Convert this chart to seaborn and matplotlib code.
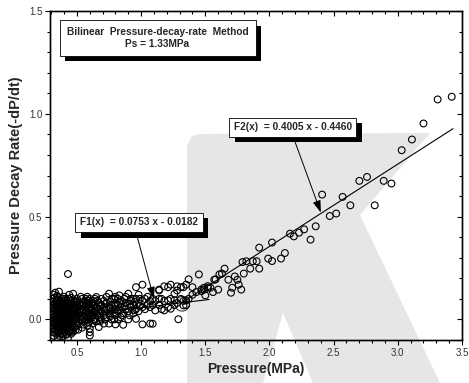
import numpy as np
import pandas as pd
import seaborn as sns
import matplotlib
matplotlib.use("Agg")
import matplotlib.pyplot as plt
from matplotlib.patches import Polygon
import matplotlib.patheffects as pe

# ---------------- data ----------------
# pressure columns with the decay rates observed at them
cluster_cols = {
    0.31: [-0.06, -0.02, 0.01, 0.04, 0.07, 0.10],
    0.32: [-0.08, -0.04, 0.0, 0.03, 0.06, 0.12],
    0.33: [-0.05, -0.01, 0.02, 0.05, 0.08, 0.13],
    0.34: [-0.07, -0.03, 0.0, 0.03, 0.06, 0.09],
    0.35: [-0.09, -0.05, -0.02, 0.01, 0.04, 0.07, 0.11],
    0.36: [-0.06, -0.03, 0.0, 0.02, 0.05, 0.08, 0.135],
    0.37: [-0.07, -0.04, -0.01, 0.03, 0.06, 0.09],
    0.38: [-0.05, -0.02, 0.01, 0.04, 0.07, 0.10],
    0.39: [-0.08, -0.04, 0.0, 0.03, 0.05, 0.08],
    0.40: [-0.06, -0.03, 0.01, 0.04, 0.06, 0.11],
    0.41: [-0.05, -0.02, 0.02, 0.05, 0.08],
    0.42: [-0.07, -0.03, 0.0, 0.03, 0.06, 0.09],
    0.43: [-0.09, -0.04, -0.01, 0.02, 0.05, 0.08, 0.221],
    0.44: [-0.06, -0.02, 0.01, 0.04, 0.07, 0.12],
    0.45: [-0.06, -0.03, 0.0, 0.03, 0.06, 0.09],
    0.46: [-0.05, -0.01, 0.02, 0.05, 0.08],
    0.47: [-0.06, -0.02, 0.01, 0.04, 0.125],
    0.48: [-0.04, 0.0, 0.03, 0.06, 0.09],
    0.49: [-0.05, -0.01, 0.02, 0.05, 0.08],
    0.50: [-0.03, 0.01, 0.04, 0.07, 0.10],
    0.52: [-0.02, 0.02, 0.05, 0.08],
    0.54: [-0.04, 0.0, 0.04, 0.07, 0.10],
    0.56: [-0.01, 0.03, 0.06, 0.09],
    0.58: [-0.03, 0.01, 0.04, 0.08, 0.11],
    0.60: [-0.078, -0.062, -0.045, 0.0, 0.03, 0.06, 0.10],
    0.62: [-0.02, 0.02, 0.05, 0.08],
    0.64: [0.0, 0.04, 0.07, 0.10],
    0.65: [-0.01, 0.03, 0.06, 0.109],
    0.67: [-0.037, 0.01, 0.05, 0.08],
    0.69: [0.0, 0.04, 0.07, 0.10],
    0.71: [-0.02, 0.02, 0.06, 0.09],
    0.73: [0.01, 0.05, 0.08, 0.11],
    0.75: [-0.02, 0.03, 0.06, 0.125],
    0.77: [0.0, 0.04, 0.07, 0.10],
    0.80: [-0.024, 0.02, 0.05, 0.08, 0.11],
    0.82: [0.0, 0.04, 0.07, 0.10],
    0.83: [0.117],
    0.85: [0.02, 0.06, 0.09],
    0.86: [-0.026, 0.03],
    0.88: [0.05, 0.08, 0.11],
    0.90: [0.0, 0.04, 0.125],
    0.92: [0.06, 0.09, 0.10],
    0.94: [0.03, 0.07, 0.10],
    0.96: [0.003, 0.05, 0.10, 0.157],
    0.98: [0.04, 0.08, 0.12],
    1.01: [-0.024, 0.06, 0.09, 0.169],
    1.03: [0.05, 0.10],
    1.05: [0.07, 0.11],
    1.07: [-0.02, 0.06, 0.09],
    1.09: [-0.021, 0.07, 0.10],
    1.11: [0.044, 0.09],
    1.14: [0.07, 0.10, 0.141, 0.145],
    1.16: [0.05, 0.10],
    1.18: [0.044, 0.09, 0.161],
    1.21: [0.06, 0.093, 0.157],
    1.23: [0.052, 0.10, 0.169],
    1.26: [0.07, 0.093, 0.125],
    1.28: [0.08, 0.141, 0.161],
    1.29: [0.001],
    1.31: [0.10, 0.157],
    1.33: [0.068, 0.09, 0.157],
    1.35: [0.07, 0.093, 0.169],
    1.37: [0.10, 0.195],
    1.40: [0.12, 0.157],
    1.43: [0.133],
    1.45: [0.219],
    1.47: [0.138, 0.146],
    1.49: [0.145, 0.154],
    1.50: [0.117],
    1.52: [0.154, 0.162],
    1.54: [0.154],
    1.56: [0.133],
    1.57: [0.193],
    1.58: [0.195],
    1.60: [0.145],
    1.61: [0.219],
    1.63: [0.223],
    1.65: [0.247],
    1.68: [0.193],
    1.70: [0.130],
    1.71: [0.154],
    1.73: [0.209],
    1.75: [0.193],
    1.76: [0.169],
    1.78: [0.145],
    1.79: [0.279],
    1.80: [0.223],
    1.82: [0.283],
    1.85: [0.247],
    1.87: [0.283],
    1.90: [0.283],
    1.92: [0.247, 0.349],
    1.99: [0.296],
    2.02: [0.284, 0.374],
    2.09: [0.296],
    2.12: [0.323],
    2.16: [0.417],
    2.19: [0.404],
    2.23: [0.422],
    2.27: [0.438],
    2.32: [0.388],
    2.36: [0.453],
    2.41: [0.607],
    2.47: [0.503],
    2.52: [0.515],
    2.57: [0.596],
    2.63: [0.555],
    2.70: [0.674],
    2.76: [0.693],
    2.82: [0.555],
    2.89: [0.674],
    2.95: [0.661],
    3.03: [0.823],
    3.11: [0.875],
    3.20: [0.953],
    3.31: [1.07],
    3.42: [1.083],
}
# additional readings filling the dense low-pressure band
cluster_extra = {
    0.315: [-0.045, -0.01, 0.025, 0.055, 0.085],
    0.325: [-0.065, -0.025, 0.01, 0.045, 0.075, 0.105],
    0.345: [-0.04, -0.005, 0.04, 0.075, 0.115],
    0.355: [-0.065, -0.035, 0.0, 0.03, 0.06, 0.095],
    0.365: [-0.08, -0.045, -0.015, 0.015, 0.045, 0.075],
    0.385: [-0.065, -0.03, 0.0, 0.025, 0.055, 0.09],
    0.395: [-0.05, -0.015, 0.015, 0.045, 0.07, 0.10],
    0.415: [-0.075, -0.04, -0.005, 0.035, 0.065, 0.10],
    0.435: [-0.055, -0.02, 0.01, 0.04, 0.07, 0.10],
    0.455: [-0.07, -0.04, -0.01, 0.02, 0.045, 0.075, 0.105],
    0.475: [-0.035, 0.0, 0.025, 0.05, 0.085],
    0.51: [-0.05, -0.01, 0.03, 0.06, 0.09],
    0.53: [0.0, 0.035, 0.065, 0.11],
    0.55: [-0.025, 0.015, 0.05, 0.08],
    0.57: [0.0, 0.04, 0.075, 0.10],
    0.59: [-0.015, 0.02, 0.055, 0.09],
    0.61: [0.01, 0.045, 0.075],
    0.63: [-0.005, 0.03, 0.065, 0.09],
    0.66: [0.02, 0.055, 0.09],
    0.68: [-0.01, 0.03, 0.065],
    0.72: [0.0, 0.04, 0.075],
    0.76: [0.015, 0.05, 0.085],
    0.79: [0.0, 0.035, 0.07, 0.10],
    0.84: [0.01, 0.045, 0.08],
    0.87: [0.065, 0.10],
    0.91: [0.02, 0.075],
    0.95: [0.045, 0.085],
    0.99: [0.065, 0.10],
}

# bilinear fit
ps_value = 1.33
f1_slope, f1_icept = 0.0753, -0.0182
f2_slope, f2_icept = 0.4005, -0.4460
f1_range = [0.30, 1.53]
f2_range = [1.33, 3.43]
ps_point = (1.32, 0.076)

x_ticks = [0.5, 1.0, 1.5, 2.0, 2.5, 3.0, 3.5]
y_ticks = [0.0, 0.5, 1.0, 1.5]

# ---------------- build frames ----------------
pressure, rate = [], []
for cols in (cluster_cols, cluster_extra):
    for p, ys in cols.items():
        pressure += [p] * len(ys)
        rate += ys
df = pd.DataFrame({"Pressure": pressure, "Rate": rate})

f1_df = pd.DataFrame({"Pressure": f1_range})
f1_df["Rate"] = f1_slope * f1_df["Pressure"] + f1_icept
f2_df = pd.DataFrame({"Pressure": f2_range})
f2_df["Rate"] = f2_slope * f2_df["Pressure"] + f2_icept

# ---------------- figure ----------------
sns.set_theme(style="ticks")
plt.rcParams["font.family"] = ["Liberation Sans", "DejaVu Sans"]

W, H = 469, 383
fig = plt.figure(figsize=(W / 100, H / 100), dpi=100)
fig.patch.set_facecolor("white")

# light-gray watermark "K" behind the plot (pixel coords, y down)
k_px = [(187, 146), (192, 136), (200, 134), (430, 133), (360, 215),
        (440, 383), (313, 383), (283, 313), (263, 383), (187, 383)]
k_fig = [(x / W, 1 - y / H) for x, y in k_px]
fig.patches.append(Polygon(k_fig, closed=True, transform=fig.transFigure,
                           facecolor="#e6e6e6", edgecolor="none", zorder=-5))

ax = fig.add_axes([50 / W, (H - 340) / H, (462 - 50) / W, (340 - 11) / H])
ax.patch.set_alpha(0)

sns.scatterplot(data=df, x="Pressure", y="Rate", ax=ax, marker="o", s=24,
                facecolor="none", edgecolor="black", linewidth=0.8, zorder=3)
ax.scatter([ps_point[0]], [ps_point[1]], s=110, facecolors="none",
           edgecolors="black", linewidths=0.6, zorder=3)
sns.lineplot(data=f1_df, x="Pressure", y="Rate", ax=ax, color="black",
             linewidth=0.8, zorder=4)
sns.lineplot(data=f2_df, x="Pressure", y="Rate", ax=ax, color="black",
             linewidth=0.8, zorder=4)

ax.set_xlim(0.29, 3.5)
ax.set_ylim(-0.1, 1.5)
ax.set_xticks(x_ticks)
ax.set_xticklabels([f"{v:.1f}" for v in x_ticks])
ax.set_yticks(y_ticks)
ax.set_yticklabels([f"{v:.1f}" for v in y_ticks])
ax.xaxis.set_minor_locator(matplotlib.ticker.MultipleLocator(0.1))
ax.yaxis.set_minor_locator(matplotlib.ticker.MultipleLocator(0.1))

ax.tick_params(axis="both", which="both", colors="black", labelcolor="#333333",
               labelsize=7, width=0.8, direction="out", top=False, right=False)
ax.tick_params(which="major", length=3.5, pad=2)
ax.tick_params(which="minor", length=2)

# top and right ticks point inward
axt = ax.twiny()
axt.set_xlim(ax.get_xlim())
axt.set_xticks(x_ticks)
axt.xaxis.set_minor_locator(matplotlib.ticker.MultipleLocator(0.1))
axt.tick_params(axis="x", which="both", direction="in", labeltop=False,
                width=0.8, colors="black")
axt.tick_params(which="major", length=3.5)
axt.tick_params(which="minor", length=2)
axr = ax.twinx()
axr.set_ylim(ax.get_ylim())
axr.set_yticks(y_ticks)
axr.yaxis.set_minor_locator(matplotlib.ticker.MultipleLocator(0.1))
axr.tick_params(axis="y", which="both", direction="in", labelright=False,
                width=0.8, colors="black")
axr.tick_params(which="major", length=3.5)
axr.tick_params(which="minor", length=2)
for a in (ax, axt, axr):
    a.patch.set_alpha(0)
    for s in a.spines.values():
        s.set_visible(True)
        s.set_linewidth(0.9)
        s.set_color("black")

ax.set_xlabel("Pressure(MPa)", fontsize=10, fontweight="bold", labelpad=3)
ax.set_ylabel("Pressure Decay Rate(-dP/dt)", fontsize=10.5, fontweight="bold",
              labelpad=4)

# ---------------- annotation boxes with drop shadows ----------------
shadow = [pe.SimplePatchShadow(offset=(4, -4), shadow_rgbFace="black",
                               alpha=1.0), pe.Normal()]
box_kw = dict(boxstyle="square,pad=0.45", facecolor="white",
              edgecolor="black", linewidth=0.6)

t1 = ax.text(1.128, 1.369,
             "Bilinear  Pressure-decay-rate  Method\nPs = 1.33MPa",
             ha="center", va="center", fontsize=7.3, fontweight="bold",
             bbox=dict(box_kw, boxstyle="square,pad=0.7"), zorder=6,
             linespacing=1.15)
t1.get_bbox_patch().set_path_effects(shadow)

t2 = ax.text(2.18, 0.935, "F2(x)  = 0.4005 x - 0.4460", ha="center",
             va="center", fontsize=7.3, fontweight="bold", bbox=box_kw,
             zorder=6)
t2.get_bbox_patch().set_path_effects(shadow)

t3 = ax.text(0.983, 0.472, "F1(x)  = 0.0753 x - 0.0182", ha="center",
             va="center", fontsize=7.3, fontweight="bold", bbox=box_kw,
             zorder=6)
t3.get_bbox_patch().set_path_effects(shadow)

arrow_kw = dict(arrowstyle="-|>,head_length=0.6,head_width=0.2",
                color="black", linewidth=0.7, shrinkA=0, shrinkB=0)
ax.annotate("", xy=(2.40, 0.52), xytext=(2.20, 0.862), arrowprops=arrow_kw,
            zorder=5)
ax.annotate("", xy=(1.10, 0.10), xytext=(0.96, 0.424), arrowprops=arrow_kw,
            zorder=5)

fig.savefig("out.png", dpi=100, facecolor="white")
